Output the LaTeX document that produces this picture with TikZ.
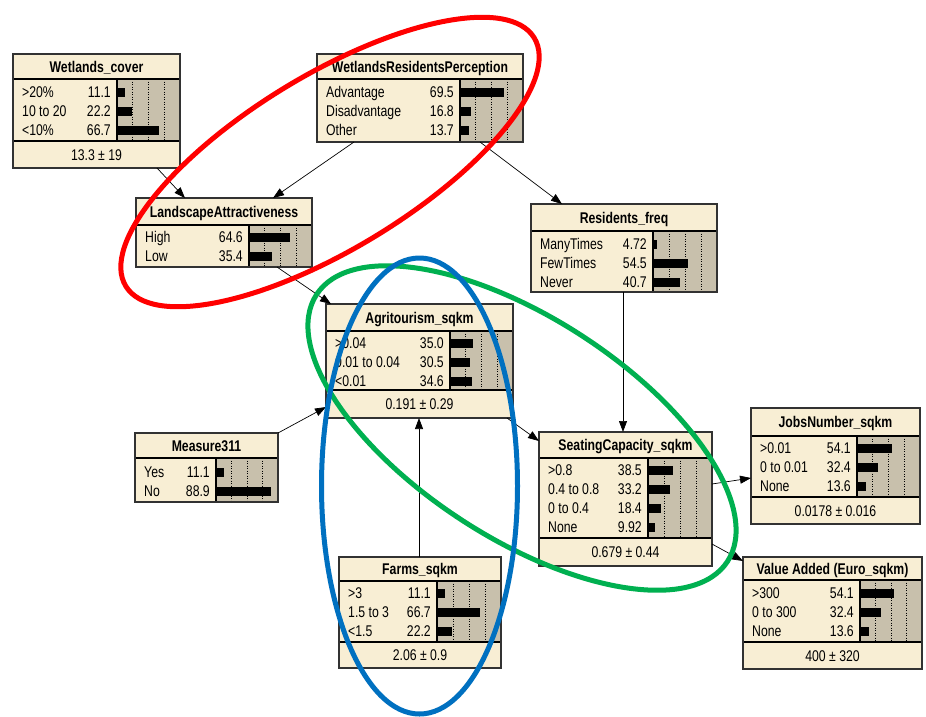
\documentclass[tikz,border=0pt]{standalone}
\usepackage{fontspec}
\setmainfont{Liberation Sans}[FakeStretch=0.79]
\usetikzlibrary{arrows.meta,calc}
\definecolor{cream}{RGB}{248,238,212}
\definecolor{bargray}{RGB}{200,192,172}
\definecolor{bdr}{RGB}{50,50,50}
\definecolor{ellred}{RGB}{255,0,0}
\definecolor{ellblue}{RGB}{0,112,192}
\definecolor{ellgreen}{RGB}{0,176,80}
\tikzset{
  bnbox/.style={fill=cream, draw=none, anchor=north west, inner sep=0pt, outer sep=0pt},
  gridline/.style={black, line width=0.6pt, dash pattern=on 1pt off 1.5pt},
  sepline/.style={black, line width=1.6pt},
  rowtext/.style={font=\fontsize{15.5}{17}\selectfont, inner sep=0pt, text=black},
  titletext/.style={font=\bfseries\fontsize{15.5}{17}\selectfont, inner sep=0pt, anchor=base, text=black},
  conn/.style={draw=black, line width=0.7pt, -{Triangle[length=11pt,width=8pt]}},
  ell/.style={line width=5pt}
}
% name, L, T, R, title line, states bottom, footer bottom, bar left, title
\newcommand\bnn[9]{%
  \pgfmathsetmacro\bnw{#4-#2}\pgfmathsetmacro\bnh{#7-#3}%
  \node[bnbox, minimum width=\bnw pt, minimum height=\bnh pt] (#1) at (#2,#3) {};
  \fill[bargray] (#8,#5) rectangle (#4,#6);
  \foreach \f in {0.25,0.5,0.75} \draw[gridline] ({#8+\f*(#4-#8)},#5) -- ({#8+\f*(#4-#8)},#6);
  \draw[sepline] (#8,#5) -- (#8,#6);
  \draw[sepline] (#2,#5) -- (#4,#5);
  \draw[sepline] (#2,#6) -- (#4,#6);
  \draw[bdr, line width=1.3pt] (#1.north west) rectangle (#1.south east);
  \node[titletext] at ({(#2+#4)/2},{(#3+#5)/2+5.5}) {#9};
}
% L, bar left, R, y, label, value, pct
\newcommand\bnrow[7]{%
  \node[rowtext, anchor=base west] at ({#1+9},{#4+5.5}) {#5};
  \node[rowtext, anchor=base east] at ({#2-6},{#4+5.5}) {#6};
  \fill[black] ({#2+1},{#4-4.5}) rectangle ({#2+1+#7/100*(#3-#2-1)},{#4+4.5});
}
% L, R, top, bottom, text
\newcommand\bnfoot[5]{%
  \node[rowtext, anchor=base] at ({(#1+#2)/2},{(#3+#4)/2+5.5}) {#5};
}
\begin{document}
\begin{tikzpicture}[x=1pt,y=-1pt]
\path[use as bounding box, fill=white] (0,0) rectangle (926,716);

\bnn{wc}{13}{54}{180}{79}{141}{168}{117}{Wetlands\_cover}
\bnrow{13}{117}{180}{92}{>20\%}{11.1}{11.1}
\bnrow{13}{117}{180}{111}{10 to 20}{22.2}{22.2}
\bnrow{13}{117}{180}{130}{<10\%}{66.7}{66.7}
\bnfoot{13}{180}{141}{168}{13.3 ± 19}

\bnn{wrp}{317}{54}{523}{79}{142}{142}{460}{WetlandsResidentsPerception}
\bnrow{317}{460}{523}{92}{Advantage}{69.5}{69.5}
\bnrow{317}{460}{523}{111}{Disadvantage}{16.8}{16.8}
\bnrow{317}{460}{523}{130}{Other}{13.7}{13.7}

\bnn{la}{136}{198}{312}{225}{267}{267}{249}{LandscapeAttractiveness}
\bnrow{136}{249}{312}{237}{High}{64.6}{64.6}
\bnrow{136}{249}{312}{256}{Low}{35.4}{35.4}

\bnn{rf}{531}{204}{717}{231}{292}{292}{653}{Residents\_freq}
\bnrow{531}{653}{717}{244}{ManyTimes}{4.72}{4.72}
\bnrow{531}{653}{717}{263}{FewTimes}{54.5}{54.5}
\bnrow{531}{653}{717}{282}{Never}{40.7}{40.7}

\bnn{ag}{326}{304}{513}{331}{390}{418}{450}{Agritourism\_sqkm}
\bnrow{326}{450}{513}{343}{>0.04}{35.0}{35.0}
\bnrow{326}{450}{513}{362}{0.01 to 0.04}{30.5}{30.5}
\bnrow{326}{450}{513}{381}{<0.01}{34.6}{34.6}
\bnfoot{326}{513}{390}{418}{0.191 ± 0.29}

\bnn{m311}{135}{433}{278}{458}{502}{502}{216}{Measure311}
\bnrow{135}{216}{278}{472}{Yes}{11.1}{11.1}
\bnrow{135}{216}{278}{491}{No}{88.9}{88.9}

\bnn{sc}{539}{432}{712}{458}{538}{566}{648}{SeatingCapacity\_sqkm}
\bnrow{539}{648}{712}{470}{>0.8}{38.5}{38.5}
\bnrow{539}{648}{712}{489}{0.4 to 0.8}{33.2}{33.2}
\bnrow{539}{648}{712}{508}{0 to 0.4}{18.4}{18.4}
\bnrow{539}{648}{712}{527}{None}{9.92}{9.92}
\bnfoot{539}{712}{538}{566}{0.679 ± 0.44}

\bnn{jn}{751}{408}{920}{436}{497}{524}{857}{JobsNumber\_sqkm}
\bnrow{751}{857}{920}{448}{>0.01}{54.1}{54.1}
\bnrow{751}{857}{920}{467}{0 to 0.01}{32.4}{32.4}
\bnrow{751}{857}{920}{486}{None}{13.6}{13.6}
\bnfoot{751}{920}{497}{524}{0.0178 ± 0.016}

\bnn{fm}{339}{557}{501}{581}{642}{668}{437}{Farms\_sqkm}
\bnrow{339}{437}{501}{593}{>3}{11.1}{11.1}
\bnrow{339}{437}{501}{612}{1.5 to 3}{66.7}{66.7}
\bnrow{339}{437}{501}{631}{<1.5}{22.2}{22.2}
\bnfoot{339}{501}{642}{668}{2.06 ± 0.9}

\bnn{va}{743}{557}{922}{580}{642}{669}{860}{Value Added (Euro\_sqkm)}
\bnrow{743}{860}{922}{593}{>300}{54.1}{54.1}
\bnrow{743}{860}{922}{612}{0 to 300}{32.4}{32.4}
\bnrow{743}{860}{922}{631}{None}{13.6}{13.6}
\bnfoot{743}{922}{642}{669}{400 ± 320}

% connectors
\draw[conn] ($(wc.south west)+(144,0)$) -- ($(la.north west)+(49,0)$);
\draw[conn] ($(wrp.south west)+(37,0)$) -- ($(la.north west)+(137,0)$);
\draw[conn] ($(wrp.south west)+(163,0)$) -- ($(rf.north west)+(31,0)$);
\draw[conn] ($(la.south west)+(141,0)$) -- ($(ag.north west)+(5,0)$);
\draw[conn] (m311.north east) -- ($(ag.south west)+(0,-11)$);
\draw[conn] ($(fm.north west)+(80,0)$) -- ($(ag.south west)+(93,0)$);
\draw[conn] ($(ag.south east)+(-6,0)$) -- ($(sc.north west)+(0,9)$);
\draw[conn] ($(rf.south west)+(92,0)$) -- ($(sc.north west)+(84,0)$);
\draw[conn] ($(sc.north east)+(0,52)$) -- ($(jn.north west)+(0,70)$);
\draw[conn] ($(sc.north east)+(0,112)$) -- ($(va.north west)+(0,4)$);

% highlight ellipses
\draw[ell, ellred, rotate around={31.3:(330,162)}] (330,162) ellipse [x radius=239, y radius=87];
\draw[ell, ellgreen, rotate around={-33:(522,428)}] (522,428) ellipse [x radius=245, y radius=110];
\draw[ell, ellblue] (419.5,486) ellipse [x radius=98, y radius=228];
\end{tikzpicture}
\end{document}
